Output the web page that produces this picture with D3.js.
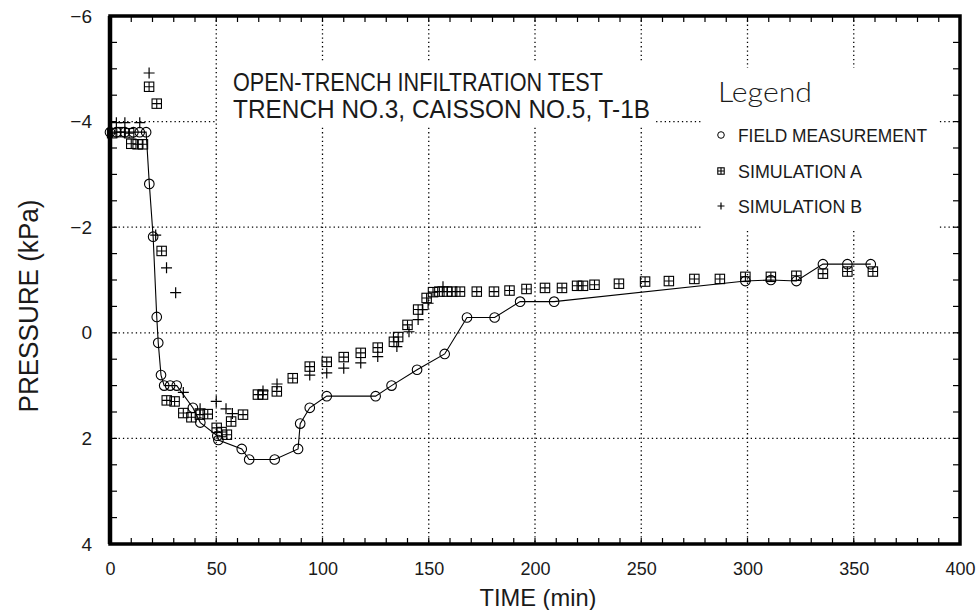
<!DOCTYPE html>
<html>
<head>
<meta charset="utf-8">
<script src="https://cdnjs.cloudflare.com/ajax/libs/d3/7.8.5/d3.min.js"></script>
<style>
    body { margin: 0; background: #fff; }
    text { font-family: "Liberation Sans", "DejaVu Sans", sans-serif; fill: #1a1a1a; }
</style>
</head>
<body>
<svg id="chart" width="976" height="610"></svg>
<script>
// values
var fieldTime = [0, 3, 7, 11, 14, 17, 18.5, 20.3, 22, 22.7, 24, 25.5, 28.3, 31.4, 39, 42.5, 50.5, 51, 62, 65.5, 77.5, 88.5, 89.5, 94, 102, 125, 132.5, 144.5, 157.5, 168, 181, 193, 209, 299, 311, 323, 335.5, 347, 358];
var fieldPressure = [-3.8, -3.8, -3.8, -3.8, -3.8, -3.8, -2.82, -1.82, -0.3, 0.19, 0.8, 1.0, 1.0, 1.0, 1.42, 1.7, 1.95, 2.03, 2.2, 2.4, 2.4, 2.2, 1.72, 1.42, 1.2, 1.2, 1.0, 0.7, 0.4, -0.29, -0.29, -0.59, -0.59, -0.98, -1.0, -0.98, -1.3, -1.3, -1.3];

var simATime = [1, 5, 9, 10, 13, 15.5, 18.4, 22, 24.3, 26.7, 30.4, 34.5, 38.3, 42.3, 46, 50.2, 52.5, 55, 57, 62.6, 69.6, 72, 78.5, 86, 94, 102, 110, 118, 126, 133.6, 135.6, 140, 145, 149, 152, 155, 158.6, 161, 164.7, 172.6, 180.7, 188, 196, 204.7, 212.7, 219.8, 222.6, 228, 239.5, 251.8, 263, 275, 287, 299, 311, 323, 335.5, 347, 359];
var simAPressure = [-3.78, -3.8, -3.78, -3.58, -3.57, -3.57, -4.66, -4.34, -1.55, 1.28, 1.3, 1.52, 1.6, 1.55, 1.54, 1.8, 1.88, 1.93, 1.68, 1.55, 1.17, 1.17, 1.11, 0.86, 0.64, 0.55, 0.46, 0.38, 0.28, 0.17, 0.08, -0.15, -0.44, -0.66, -0.77, -0.78, -0.78, -0.78, -0.78, -0.78, -0.78, -0.8, -0.83, -0.85, -0.85, -0.89, -0.89, -0.91, -0.93, -0.97, -0.98, -1.02, -1.02, -1.06, -1.06, -1.08, -1.12, -1.16, -1.16];

var simBTime = [3, 7, 14, 18.4, 21.5, 26.6, 30.9, 34.5, 42.4, 50, 54.6, 57.6, 72, 78.6, 94, 102, 110, 118, 126, 135, 140.7, 145, 147, 149.7, 156.7];
var simBPressure = [-3.98, -3.98, -3.98, -4.92, -1.85, -1.23, -0.76, 1.13, 1.44, 1.3, 1.44, 1.53, 1.1, 0.97, 0.8, 0.76, 0.67, 0.57, 0.45, 0.26, -0.02, -0.25, -0.44, -0.56, -0.87];

var timeTicks = [0, 50, 100, 150, 200, 250, 300, 350, 400];
var pressureTicks = [-6, -4, -2, 0, 2, 4];

var svg = d3.select("#chart");
var plotLeft = 110, plotRight = 960, plotTop = 16, plotBottom = 544;

var x = d3.scaleLinear().domain([0, 400]).range([plotLeft, plotRight]);
var y = d3.scaleLinear().domain([-6, 4]).range([plotTop, plotBottom]);

// dotted grid
var grid = svg.append("g")
    .attr("stroke", "#000")
    .attr("stroke-width", 1.3)
    .attr("stroke-dasharray", "1.3,3");

grid.selectAll(".gx")
    .data(timeTicks.slice(1, -1))
    .enter().append("line")
    .attr("x1", x).attr("x2", x)
    .attr("y1", plotTop).attr("y2", plotBottom);

grid.selectAll(".gy")
    .data(pressureTicks.slice(1, -1))
    .enter().append("line")
    .attr("x1", plotLeft).attr("x2", plotRight)
    .attr("y1", y).attr("y2", y);

// white boxes behind the title and the legend
svg.append("rect").attr("x", 217).attr("y", 63).attr("width", 438).attr("height", 62).attr("fill", "#fff");
svg.append("rect").attr("x", 703).attr("y", 68).attr("width", 234).attr("height", 161).attr("fill", "#fff");

// minor ticks, inside the frame
var ticks = svg.append("g").attr("stroke", "#000").attr("stroke-width", 1.2);
var tx = d3.range(10, 400, 10);
var ty = d3.range(-5.5, 4, 0.5);

ticks.selectAll(".tb").data(tx).enter().append("line")
    .attr("x1", x).attr("x2", x).attr("y1", plotBottom).attr("y2", plotBottom - 6);
ticks.selectAll(".tt").data(tx).enter().append("line")
    .attr("x1", x).attr("x2", x).attr("y1", plotTop).attr("y2", plotTop + 6);
ticks.selectAll(".tl").data(ty).enter().append("line")
    .attr("x1", plotLeft).attr("x2", plotLeft + 7).attr("y1", y).attr("y2", y);
ticks.selectAll(".tr").data(ty).enter().append("line")
    .attr("x1", plotRight).attr("x2", plotRight - 7).attr("y1", y).attr("y2", y);

// frame (left side drawn heavier, like the plotter output)
svg.append("rect")
    .attr("x", plotLeft).attr("y", plotTop)
    .attr("width", plotRight - plotLeft).attr("height", plotBottom - plotTop)
    .attr("fill", "none").attr("stroke", "#000").attr("stroke-width", 3.5);
svg.append("line")
    .attr("x1", plotLeft).attr("x2", plotLeft).attr("y1", plotTop).attr("y2", plotBottom)
    .attr("stroke", "#000").attr("stroke-width", 4.5);

// tick labels
var xAxis = d3.axisBottom(x).tickValues(timeTicks).tickSize(0).tickPadding(0);
svg.append("g")
    .attr("transform", "translate(0," + (plotBottom + 31) + ")")
    .call(xAxis)
    .call(function(g) { g.select(".domain").remove(); })
    .selectAll("text")
    .attr("dy", 0)
    .style("font-size", "18px")
    .style("font-family", "Liberation Sans, sans-serif")
    .attr("fill", "#1a1a1a");

var yAxis = d3.axisLeft(y).tickValues(pressureTicks).tickSize(0).tickPadding(0);
svg.append("g")
    .attr("transform", "translate(92,0)")
    .call(yAxis)
    .call(function(g) { g.select(".domain").remove(); })
    .selectAll("text")
    .style("font-size", "19px")
    .style("font-family", "Liberation Sans, sans-serif")
    .attr("fill", "#1a1a1a");

// field measurement: line + circles
var line = d3.line()
    .x(function(d) { return x(d[0]); })
    .y(function(d) { return y(d[1]); });

var field = d3.zip(fieldTime, fieldPressure);
svg.append("path")
    .datum(field)
    .attr("d", line)
    .attr("fill", "none")
    .attr("stroke", "#000")
    .attr("stroke-width", 1.1);

svg.selectAll(".field").data(field).enter().append("circle")
    .attr("cx", function(d) { return x(d[0]); })
    .attr("cy", function(d) { return y(d[1]); })
    .attr("r", 4.8)
    .attr("fill", "none")
    .attr("stroke", "#000")
    .attr("stroke-width", 1.1);

// simulation A: boxed cross
function boxCross(g, s) {
    g.append("rect").attr("x", -s).attr("y", -s).attr("width", 2 * s).attr("height", 2 * s)
        .attr("fill", "none").attr("stroke", "#000").attr("stroke-width", 1.1);
    g.append("path").attr("d", "M" + (-s) + ",0H" + s + "M0," + (-s) + "V" + s)
        .attr("stroke", "#000").attr("stroke-width", 1.1);
}
function plus(g, s) {
    g.append("path").attr("d", "M" + (-s) + ",0H" + s + "M0," + (-s) + "V" + s)
        .attr("stroke", "#000").attr("stroke-width", 1.2);
}

svg.selectAll(".simA").data(d3.zip(simATime, simAPressure)).enter().append("g")
    .attr("transform", function(d) { return "translate(" + x(d[0]) + "," + y(d[1]) + ")"; })
    .each(function() { boxCross(d3.select(this), 4.7); });

svg.selectAll(".simB").data(d3.zip(simBTime, simBPressure)).enter().append("g")
    .attr("transform", function(d) { return "translate(" + x(d[0]) + "," + y(d[1]) + ")"; })
    .each(function() { plus(d3.select(this), 5.5); });

// title
svg.append("text").attr("x", 233).attr("y", 91)
    .attr("textLength", 370).attr("lengthAdjust", "spacingAndGlyphs")
    .style("font-size", "25px").text("OPEN-TRENCH INFILTRATION TEST");
svg.append("text").attr("x", 233).attr("y", 118)
    .attr("textLength", 417).attr("lengthAdjust", "spacingAndGlyphs")
    .style("font-size", "25px").text("TRENCH NO.3, CAISSON NO.5, T-1B");

// legend
svg.append("text").attr("x", 718).attr("y", 102)
    .attr("textLength", 94).attr("lengthAdjust", "spacingAndGlyphs")
    .style("font-family", "Lato, Roboto, sans-serif")
    .style("font-size", "27px").style("font-weight", "300").text("Legend");

var legendRows = [
    {label: "FIELD MEASUREMENT", base: 142, len: 189},
    {label: "SIMULATION A", base: 178, len: 124},
    {label: "SIMULATION B", base: 213, len: 124}
];
legendRows.forEach(function(r, i) {
    svg.append("text").attr("x", 738).attr("y", r.base)
        .attr("textLength", r.len).attr("lengthAdjust", "spacingAndGlyphs")
        .style("font-size", "19px").text(r.label);
    var g = svg.append("g").attr("transform", "translate(721," + (r.base - 7) + ")");
    if (i == 0) g.append("circle").attr("r", 3.3).attr("fill", "none").attr("stroke", "#000");
    else if (i == 1) boxCross(g, 3.2);
    else plus(g, 3.5);
});

// axis titles
svg.append("text")
    .attr("transform", "translate(38,306) rotate(-90)")
    .attr("text-anchor", "middle")
    .attr("textLength", 213).attr("lengthAdjust", "spacingAndGlyphs")
    .style("font-size", "27px").text("PRESSURE (kPa)");

svg.append("text")
    .attr("x", 538).attr("y", 606)
    .attr("text-anchor", "middle")
    .attr("textLength", 117).attr("lengthAdjust", "spacingAndGlyphs")
    .style("font-size", "24px").text("TIME (min)");
</script>
</body>
</html>
